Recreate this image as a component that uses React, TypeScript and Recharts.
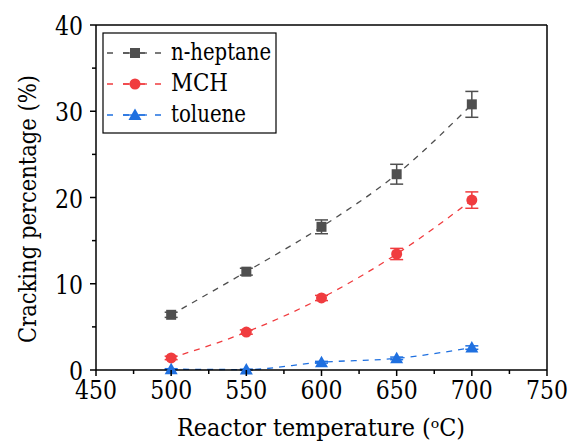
import React from 'react';
import {
  ErrorBar,
  Line,
  LineChart,
  ReferenceLine,
  XAxis,
  YAxis,
} from 'recharts';

const temps = [500, 550, 600, 650, 700];
const heptane = [6.4, 11.4, 16.6, 22.7, 30.8];
const heptaneErr = [0.3, 0.4, 0.8, 1.15, 1.5];
const mch = [1.4, 4.4, 8.35, 13.45, 19.7];
const mchErr = [0.2, 0.25, 0.3, 0.65, 0.95];
const toluene = [0.1, 0.05, 0.9, 1.35, 2.6];
const tolueneErr = [0.05, 0.05, 0.1, 0.15, 0.2];

const xTicks = [450, 475, 500, 525, 550, 575, 600, 625, 650, 675, 700, 725, 750];
const yTicks = [0, 5, 10, 15, 20, 25, 30, 35, 40];

const GRAY = '#4f4f4f';
const RED = '#f03c3f';
const BLUE = '#1f70e0';
// Liberation Serif does not resolve here, DejaVu Serif does
const FONT = "'DejaVu Serif', serif";
const txt = { fontFamily: FONT, fontSize: 25, fill: '#000' };

const data = temps.map((t, i) => ({
  t,
  heptane: heptane[i],
  heptaneErr: heptaneErr[i],
  mch: mch[i],
  mchErr: mchErr[i],
  toluene: toluene[i],
  tolueneErr: tolueneErr[i],
}));

const XTick = (props: any) => {
  const { x, y, payload } = props;
  const major = payload.value % 50 === 0;
  const s = String(payload.value);
  return (
    <g>
      <line x1={x} x2={x} y1={y} y2={y + (major ? 6 : 4)} stroke="#000" strokeWidth={1.5} />
      {major && (
        <text
          x={x}
          y={y + 29}
          textAnchor="middle"
          style={{ ...txt, fontSize: 26 }}
          textLength={s.length * 14}
          lengthAdjust="spacingAndGlyphs"
        >
          {s}
        </text>
      )}
    </g>
  );
};

const YTick = (props: any) => {
  const { x, y, payload } = props;
  const major = payload.value % 10 === 0;
  const s = String(payload.value);
  return (
    <g>
      <line x1={x} x2={x - (major ? 6 : 4)} y1={y} y2={y} stroke="#000" strokeWidth={1.5} />
      {major && (
        <text
          x={x - 13}
          y={y + 10}
          textAnchor="end"
          style={{ ...txt, fontSize: 26 }}
          textLength={s.length * 14}
          lengthAdjust="spacingAndGlyphs"
        >
          {s}
        </text>
      )}
    </g>
  );
};

const Square = (props: any) => {
  const { cx, cy } = props;
  return <rect x={cx - 5} y={cy - 5} width={10} height={10} fill={GRAY} />;
};
const Circle = (props: any) => {
  const { cx, cy } = props;
  return <circle cx={cx} cy={cy} r={5.5} fill={RED} />;
};
const Tri = (props: any) => {
  const { cx, cy } = props;
  return <path d={`M${cx},${cy - 6.5} L${cx + 6.5},${cy + 5} L${cx - 6.5},${cy + 5} Z`} fill={BLUE} />;
};

const legendItems = [
  { name: 'n-heptane', color: GRAY, Mark: Square, w: 100 },
  { name: 'MCH', color: RED, Mark: Circle, w: 57 },
  { name: 'toluene', color: BLUE, Mark: Tri, w: 75 },
];

const LegendBox = () => (
  <svg width={210} height={103} style={{ position: 'absolute', left: 102, top: 32, overflow: 'visible' }}>
    <rect x={1} y={1} width={173} height={100} fill="#fff" stroke="#000" strokeWidth={1.2} />
    {legendItems.map((it, i) => {
      const cy = 21 + i * 31;
      return (
        <g key={it.name}>
          <line x1={5} x2={61} y1={cy} y2={cy} stroke={it.color} strokeWidth={1.3} strokeDasharray="6 10" />
          <line x1={21} x2={45} y1={cy} y2={cy} stroke={it.color} strokeWidth={1.3} />
          <it.Mark cx={33} cy={cy} />
          <text
            x={69}
            y={cy + 7}
            style={{ ...txt, fontSize: 24 }}
            textLength={it.w}
            lengthAdjust="spacingAndGlyphs"
          >
            {it.name}
          </text>
        </g>
      );
    })}
  </svg>
);

const XLabel = () => (
  <text
    x={321}
    y={436}
    textAnchor="middle"
    style={{ ...txt, fontSize: 24 }}
    textLength={288}
    lengthAdjust="spacingAndGlyphs"
  >
    {'Reactor temperature (\u1D52C)'}
  </text>
);

const YLabel = () => (
  <text
    x={36}
    y={209}
    transform="rotate(-90, 36, 209)"
    textAnchor="middle"
    style={{ ...txt, fontSize: 24 }}
    textLength={268}
    lengthAdjust="spacingAndGlyphs"
  >
    Cracking percentage (%)
  </text>
);

export default function App() {
  return (
    <div style={{ position: 'absolute', left: 0, top: 0, width: 571, height: 448, background: '#fff' }}>
      <LineChart
        width={571}
        height={448}
        data={data}
        margin={{ top: 25, right: 24, bottom: 0, left: 36 }}
      >
        <XAxis
          dataKey="t"
          type="number"
          domain={[450, 750]}
          ticks={xTicks}
          interval={0}
          tick={<XTick />}
          tickLine={false}
          tickSize={0}
          tickMargin={0}
          height={78}
          axisLine={{ stroke: '#000', strokeWidth: 1.5 }}
          label={{ content: () => <XLabel /> }}
        />
        <YAxis
          type="number"
          domain={[0, 40]}
          ticks={yTicks}
          interval={0}
          tick={<YTick />}
          tickLine={false}
          tickSize={0}
          tickMargin={0}
          width={60}
          axisLine={{ stroke: '#000', strokeWidth: 1.5 }}
          label={{ content: () => <YLabel /> }}
        />
        <ReferenceLine y={40} stroke="#000" strokeWidth={1.5} />
        <ReferenceLine x={750} stroke="#000" strokeWidth={1.5} />
        <Line
          type="monotone"
          dataKey="heptane"
          stroke={GRAY}
          strokeWidth={1.3}
          strokeDasharray="6 6"
          dot={<Square />}
          activeDot={false}
          isAnimationActive={false}
        >
          <ErrorBar dataKey="heptaneErr" width={6.5} stroke={GRAY} strokeWidth={1.5} direction="y" />
        </Line>
        <Line
          type="monotone"
          dataKey="mch"
          stroke={RED}
          strokeWidth={1.3}
          strokeDasharray="6 6"
          dot={<Circle />}
          activeDot={false}
          isAnimationActive={false}
        >
          <ErrorBar dataKey="mchErr" width={6.5} stroke={RED} strokeWidth={1.5} direction="y" />
        </Line>
        <Line
          type="monotone"
          dataKey="toluene"
          stroke={BLUE}
          strokeWidth={1.3}
          strokeDasharray="6 6"
          dot={<Tri />}
          activeDot={false}
          isAnimationActive={false}
        >
          <ErrorBar dataKey="tolueneErr" width={6.5} stroke={BLUE} strokeWidth={1.5} direction="y" />
        </Line>
      </LineChart>
      <LegendBox />
    </div>
  );
}
